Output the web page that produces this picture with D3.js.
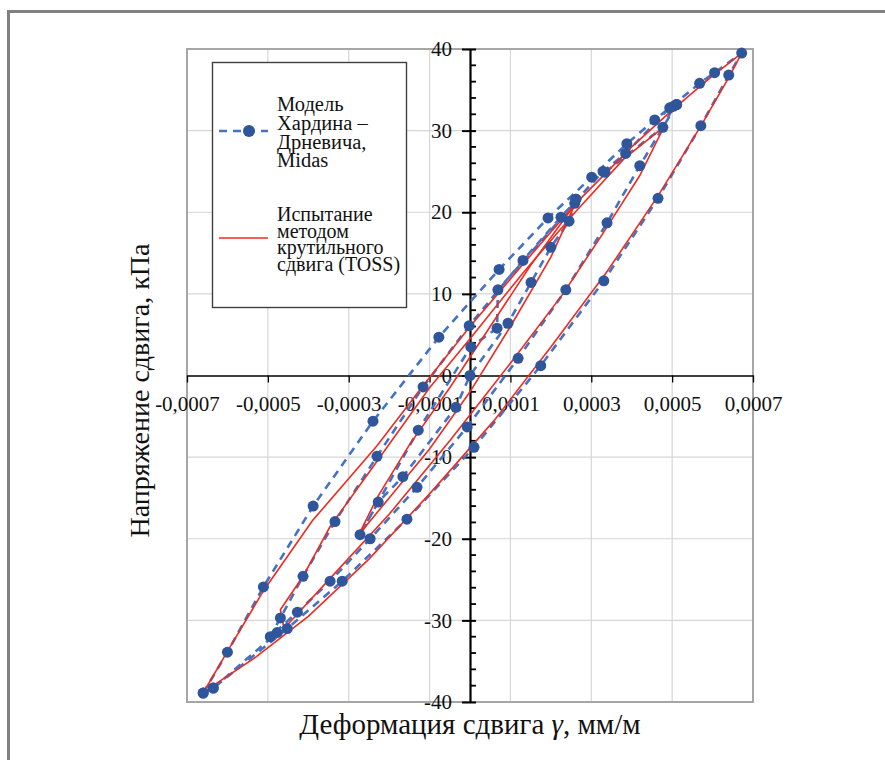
<!DOCTYPE html>
<html>
<head>
<meta charset="utf-8">
<script src="https://cdn.jsdelivr.net/npm/d3@7"></script>
<style>
   body { margin: 0; background: #fff; }
   svg text { font-family: "Liberation Serif", "Times New Roman", Tinos, "DejaVu Serif", serif !important; fill: #111; }
</style>
</head>
<body>
<svg id="chart" width="885" height="760"></svg>
<script>
// значения: деформация (мм/м), напряжение (кПа)
const xTicks = [-0.0007, -0.0005, -0.0003, -0.0001, 0.0001, 0.0003, 0.0005, 0.0007]
const yTicks = [-40, -30, -20, -10, 0, 10, 20, 30, 40]

// Модель Хардина – Дрневича, Midas (пунктир с маркерами)
const midas1 = [
   [-0.00066, -38.9], [-0.00060, -33.9], [-0.000511, -25.9], [-0.000388, -16.0], [-0.00024, -5.6],
   [-0.000077, 4.7], [0.000072, 13.0], [0.000193, 19.3], [0.000301, 24.3], [0.000388, 28.4],
   [0.000457, 31.3], [0.000568, 35.8], [0.000605, 37.1], [0.000672, 39.5],
   [0.00064, 36.8], [0.000571, 30.6], [0.000465, 21.7], [0.000331, 11.6], [0.000175, 1.2],
   [0.00001, -8.8], [-0.000156, -17.6], [-0.000316, -25.2], [-0.000452, -31.0], [-0.000635, -38.3],
   [-0.00066, -38.9]
]
const midas2 = [
   [0.000511, 33.2], [0.00042, 25.7], [0.000339, 18.7], [0.000237, 10.5], [0.000119, 2.1],
   [-0.000007, -6.3], [-0.000131, -13.7], [-0.000247, -20.0], [-0.000346, -25.2], [-0.000427, -29.0],
   [-0.000494, -32.0], [-0.000469, -29.7], [-0.000413, -24.6], [-0.000334, -17.9], [-0.00023, -9.9],
   [-0.000116, -1.4], [-0.000002, 6.1], [0.000131, 14.1], [0.000225, 19.4], [0.000329, 25.0],
   [0.000385, 27.2], [0.000494, 32.8], [0.000511, 33.2]
]
const midas3 = [
   [0.000262, 21.6], [0.000245, 18.9], [0.0002, 15.7], [0.000151, 11.4], [0.000094, 6.4],
   [0, 0], [-0.000035, -3.9], [-0.000166, -12.4], [-0.000227, -15.5], [-0.000272, -19.5],
   [-0.000128, -6.7], [0.000002, 3.5], [0.000067, 5.8], [0.000069, 10.5], [0.000259, 21.1],
   [0.000262, 21.6]
]
const midas4 = [[-0.000635, -38.3], [-0.000477, -31.5]]
const midas5 = [[0.000334, 24.9], [0.000477, 30.4], [0.000504, 33.0]]
const midasRuns = [midas1, midas2, midas3, midas4, midas5]

// Испытание методом крутильного сдвига (TOSS), сплошные красные
const toss1 = [
   [-0.00066, -38.9], [-0.0006, -33.8], [-0.00051, -26.3], [-0.00039, -17.8], [-0.00023, -8.6],
   [-0.00012, -1.5], [0, 6.0], [0.00012, 13.0], [0.00026, 21.0], [0.0004, 28.0], [0.0005, 32.5],
   [0.00059, 36.3], [0.000672, 39.5],
   [0.00064, 36.5], [0.00057, 30.5], [0.000465, 22.0], [0.00034, 12.8], [0.0002, 3.5],
   [0.00006, -5.5], [-0.0001, -14.5], [-0.00025, -22.5], [-0.0004, -29.5], [-0.00053, -34.5],
   [-0.00063, -37.8], [-0.00066, -38.9]
]
const toss2 = [
   [-0.00046, -31.0], [-0.000469, -28.7], [-0.000413, -24.6], [-0.000346, -18.5], [-0.00023, -10.5],
   [-0.0001, -1.5], [0, 4.5], [0.00013, 12.5], [0.00026, 20.0], [0.00038, 26.5], [0.00048, 30.5],
   [0.00042, 24.5], [0.00033, 17.5], [0.00023, 10.0], [0.0001, 1.5], [-0.00005, -8.0],
   [-0.0002, -17.0], [-0.00033, -24.0], [-0.00046, -31.0]
]
const toss3 = [
   [-0.000275, -19.5], [-0.00023, -15.0], [-0.00015, -8.5], [-0.00005, -1.5], [0.00005, 6.0],
   [0.00015, 13.5], [0.00026, 21.0],
   [0.0002, 14.5], [0.0001, 6.0], [0, -2.0], [-0.0001, -9.0], [-0.0002, -15.0], [-0.000275, -19.5]
]
const tossRuns = [toss1, toss2, toss3]

const legendMidas = ["Модель", "Хардина –", "Дрневича,", "Midas"]
const legendToss = ["Испытание", "методом", "крутильного", "сдвига (TOSS)"]

const blue = "#2f559a", blueLine = "#4472c4", red = "#f02a20"
const serif = "'Liberation Serif', 'Times New Roman', Tinos, 'DejaVu Serif', serif"

const svg = d3.select("#chart")

// внешняя рамка рисунка
svg.append("rect")
   .attr("x", 8.5).attr("y", 11.5).attr("width", 900).attr("height", 800)
   .attr("fill", "none").attr("stroke", "#808080").attr("stroke-width", 3)

const x = d3.scaleLinear().domain([-0.0007, 0.0007]).range([187, 753])
const y = d3.scaleLinear().domain([-40, 40]).range([702, 49])

// сетка
svg.append("g").selectAll("line")
   .data(xTicks.slice(1, -1))
   .join("line")
   .attr("x1", d => x(d)).attr("x2", d => x(d))
   .attr("y1", y(40)).attr("y2", y(-40))
   .attr("stroke", "#d6d6d6").attr("stroke-width", 1.2)
svg.append("g").selectAll("line")
   .data(yTicks.slice(1, -1).filter(d => d !== 0))
   .join("line")
   .attr("x1", x(-0.0007)).attr("x2", x(0.0007))
   .attr("y1", d => y(d)).attr("y2", d => y(d))
   .attr("stroke", "#d6d6d6").attr("stroke-width", 1.2)

svg.append("rect")
   .attr("x", x(-0.0007)).attr("y", y(40))
   .attr("width", x(0.0007) - x(-0.0007)).attr("height", y(-40) - y(40))
   .attr("fill", "none").attr("stroke", "#a6a6a6").attr("stroke-width", 2)

const line = d3.line().x(d => x(d[0])).y(d => y(d[1]))

// ось X
const xAxis = svg.append("g")
   .attr("transform", `translate(0,${y(0)})`)
   .call(d3.axisBottom(x).tickValues(xTicks).tickSizeInner(7).tickSizeOuter(0)
      .tickFormat(d => d3.format(".4f")(d).replace(".", ",").replace("−", "-")))
xAxis.attr("font-family", serif)
xAxis.select(".domain").attr("stroke", "#000").attr("stroke-width", 1.6)
xAxis.selectAll(".tick line").attr("stroke", "#000").attr("stroke-width", 1.3)
xAxis.selectAll(".tick text")
   .attr("y", 21).attr("dy", "0.71em")
   .style("font-size", "21px").attr("fill", "#111")

// ось Y
const yAxis = svg.append("g")
   .attr("transform", `translate(${x(0)},0)`)
   .call(d3.axisLeft(y).tickValues(yTicks).tickSizeInner(8).tickSizeOuter(0).tickPadding(10)
      .tickFormat(d => d < 0 ? "-" + Math.abs(d) : d))
yAxis.attr("font-family", serif)
yAxis.select(".domain").attr("stroke", "#000").attr("stroke-width", 2.2)
yAxis.selectAll(".tick line").attr("x2", 6).attr("x1", -8).attr("stroke", "#000").attr("stroke-width", 2)
yAxis.selectAll(".tick text")
   .style("font-size", "21px").attr("fill", "#111")
yAxis.selectAll(".minor")
   .data(d3.range(-40, 41, 2).filter(d => d % 10 !== 0))
   .join("line")
   .attr("class", "minor")
   .attr("x1", 0).attr("x2", 6)
   .attr("y1", d => y(d)).attr("y2", d => y(d))
   .attr("stroke", "#000").attr("stroke-width", 1.8)

// серии
svg.append("g").selectAll("path")
   .data(midasRuns)
   .join("path")
   .attr("d", line)
   .attr("fill", "none").attr("stroke", blueLine).attr("stroke-width", 2.6)
   .attr("stroke-dasharray", "8,6")

svg.append("g").selectAll("path")
   .data(tossRuns)
   .join("path")
   .attr("d", line)
   .attr("fill", "none").attr("stroke", red).attr("stroke-width", 1.6)

svg.append("g").selectAll("circle")
   .data(midasRuns.flat())
   .join("circle")
   .attr("cx", d => x(d[0])).attr("cy", d => y(d[1]))
   .attr("r", 5.5).attr("fill", blue)

// подписи осей
svg.append("text")
   .attr("transform", `translate(149,${(y(40) + y(-40)) / 2 + 15}) rotate(-90)`)
   .attr("text-anchor", "middle").style("font-size", "28px")
   .text("Напряжение сдвига, кПа")

const xt = svg.append("text")
   .attr("x", 470).attr("y", 734)
   .attr("text-anchor", "middle").style("font-size", "29px")
xt.append("tspan").text("Деформация сдвига ")
xt.append("tspan").style("font-style", "italic").text("γ")
xt.append("tspan").text(", мм/м")

// легенда
const lg = svg.append("g").attr("font-family", serif)
lg.append("rect")
   .attr("x", 212.5).attr("y", 62.5).attr("width", 194).attr("height", 245)
   .attr("fill", "#fff").attr("stroke", "#404040").attr("stroke-width", 1.4)
lg.append("line")
   .attr("x1", 219).attr("x2", 268).attr("y1", 131).attr("y2", 131)
   .attr("stroke", blueLine).attr("stroke-width", 2.6).attr("stroke-dasharray", "8,6")
lg.append("circle").attr("cx", 249).attr("cy", 131).attr("r", 6).attr("fill", blue)
lg.append("line")
   .attr("x1", 219).attr("x2", 268).attr("y1", 238).attr("y2", 238)
   .attr("stroke", red).attr("stroke-width", 1.6)

lg.selectAll(".m")
   .data(legendMidas)
   .join("text")
   .attr("class", "m")
   .attr("x", 277).attr("y", (d, i) => 111 + i * 18.8)
   .style("font-size", "20.5px")
   .text(d => d)
lg.selectAll(".t")
   .data(legendToss)
   .join("text")
   .attr("class", "t")
   .attr("x", 277).attr("y", (d, i) => 221 + i * 16.7)
   .style("font-size", "20px")
   .text(d => d)
</script>
</body>
</html>
